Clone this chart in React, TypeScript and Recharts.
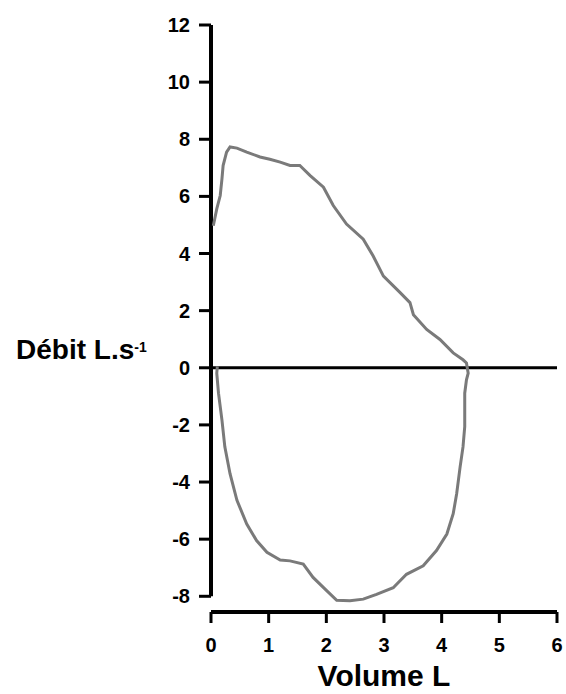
import { LineChart, Line, XAxis, YAxis, ReferenceLine } from "recharts";

// flow-volume loop: volume (L), flow (L/s)
const volume = [
  0.04, 0.1, 0.16, 0.19, 0.21, 0.27, 0.33, 0.45, 0.62, 0.85, 1.02, 1.2, 1.37, 1.54, 1.72, 1.95,
  2.12, 2.35, 2.64, 2.81, 2.99, 3.28, 3.45, 3.51, 3.74, 3.97, 4.2, 4.37, 4.43, 4.46,
  4.43, 4.4, 4.4, 4.37, 4.32, 4.26, 4.2, 4.09, 3.91, 3.68, 3.39, 3.16, 2.87, 2.64, 2.41,
  2.18, 2.01, 1.77, 1.6, 1.37, 1.2, 0.97, 0.79, 0.62, 0.45, 0.33, 0.24, 0.19, 0.13, 0.1, 0.11,
];
const flow = [
  4.97, 5.56, 6.03, 6.61, 7.08, 7.55, 7.73, 7.69, 7.55, 7.38, 7.3, 7.2, 7.08, 7.08, 6.73, 6.32,
  5.68, 5.03, 4.5, 3.92, 3.21, 2.63, 2.28, 1.86, 1.34, 0.99, 0.52, 0.28, 0.17, -0.19,
  -0.42, -0.89, -2.06, -2.77, -3.47, -4.41, -5.11, -5.82, -6.4, -6.93, -7.23, -7.7, -7.93, -8.1, -8.16,
  -8.14, -7.81, -7.34, -6.87, -6.76, -6.73, -6.46, -6.05, -5.47, -4.64, -3.71, -2.77, -1.83, -0.89, -0.19, 0.05,
];
const xTicks = [0, 1, 2, 3, 4, 5, 6];
const yTicks = [-8, -6, -4, -2, 0, 2, 4, 6, 8, 10, 12];

const data = volume.map((v, i) => ({ volume: v, flow: flow[i] }));

const FONT = "'Liberation Sans', Arial, Helvetica, sans-serif";

function YTitle() {
  return (
    <text x={16} y={359} fontFamily={FONT} fontWeight="bold" fontSize={28} fill="#000">
      Débit L.s
      <tspan fontSize={14} dy={-7}>-1</tspan>
    </text>
  );
}

function XTitle(props: any) {
  const vb = props.viewBox || { x: 211, width: 346 };
  return (
    <text
      x={vb.x + vb.width / 2}
      y={686}
      textAnchor="middle"
      fontFamily={FONT}
      fontWeight="bold"
      fontSize={30}
      fill="#000"
    >
      Volume L
    </text>
  );
}

export default function App() {
  return (
    <div style={{ position: "absolute", left: 0, top: 0 }}>
      <LineChart
        width={566}
        height={694}
        data={data}
        margin={{ top: 25, right: 9, bottom: 0, left: 0 }}
      >
        <XAxis
          type="number"
          dataKey="volume"
          domain={[0, 6]}
          ticks={xTicks}
          height={82}
          axisLine={{ stroke: "#000", strokeWidth: 4 }}
          tickLine={{ stroke: "#000", strokeWidth: 3 }}
          tickSize={11}
          tickMargin={15}
          tick={{ fill: "#000", fontSize: 20, fontWeight: "bold", fontFamily: FONT }}
          label={<XTitle />}
        />
        <YAxis
          type="number"
          domain={[-8.55, 12]}
          ticks={yTicks}
          width={211}
          axisLine={false}
          tickLine={{ stroke: "#000", strokeWidth: 3 }}
          tickSize={12}
          tickMargin={9}
          tick={{ fill: "#000", fontSize: 20, fontWeight: "bold", fontFamily: FONT }}
          label={<YTitle />}
        />
        <ReferenceLine
          segment={[
            { x: 0, y: -8 },
            { x: 0, y: 12 },
          ]}
          stroke="#000"
          strokeWidth={4}
          ifOverflow="visible"
        />
        <ReferenceLine y={0} stroke="#000" strokeWidth={3} />
        <Line
          dataKey="flow"
          type="linear"
          stroke="#7a7a7a"
          strokeWidth={3}
          dot={false}
          isAnimationActive={false}
        />
      </LineChart>
    </div>
  );
}
